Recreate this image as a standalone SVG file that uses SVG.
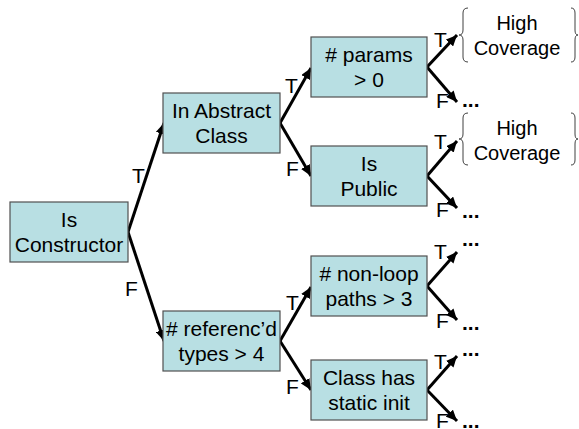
<svg xmlns="http://www.w3.org/2000/svg" width="579" height="429" viewBox="0 0 579 429">
<style>
.box{fill:#b8dfe3;stroke:#505050;stroke-width:1.2}
.t{font-family:"Liberation Sans",Arial,sans-serif;font-size:21px;fill:#000;text-anchor:middle}
.lbl{font-family:"Liberation Sans",Arial,sans-serif;font-size:21px;fill:#000}
.hc{font-family:"Liberation Sans",Arial,sans-serif;font-size:20px;fill:#000;text-anchor:middle}
.dots{font-family:"Liberation Sans",Arial,sans-serif;font-size:21px;font-weight:bold;fill:#000}
.c{stroke:#000;stroke-width:3;fill:none;marker-end:url(#ah)}
.br{stroke:#404040;stroke-width:1;fill:none}
</style>
<defs>
<marker id="ah" markerUnits="userSpaceOnUse" markerWidth="12" markerHeight="10" refX="11" refY="5" orient="auto">
<path d="M0,0 L11,5 L0,10 Z" fill="#000"/>
</marker>
</defs>
<g id="connectors">
<line class="c" x1="128" y1="232" x2="164" y2="123"/>
<line class="c" x1="128" y1="232" x2="164" y2="341"/>
<line class="c" x1="280" y1="123" x2="311" y2="68"/>
<line class="c" x1="280" y1="123" x2="311" y2="176"/>
<line class="c" x1="280" y1="341" x2="311" y2="287"/>
<line class="c" x1="280" y1="341" x2="311" y2="390"/>
<line class="c" x1="427" y1="67" x2="457" y2="35"/>
<line class="c" x1="427" y1="67" x2="457" y2="102"/>
<line class="c" x1="427" y1="176" x2="457" y2="141"/>
<line class="c" x1="427" y1="176" x2="457" y2="208"/>
<line class="c" x1="427" y1="286" x2="457" y2="252"/>
<line class="c" x1="427" y1="286" x2="457" y2="320"/>
<line class="c" x1="427" y1="390" x2="457" y2="356"/>
<line class="c" x1="427" y1="390" x2="457" y2="421"/>
<text class="lbl" x="132" y="183">T</text>
<text class="lbl" x="125" y="296">F</text>
<text class="lbl" x="285" y="93">T</text>
<text class="lbl" x="286" y="176">F</text>
<text class="lbl" x="286" y="310">T</text>
<text class="lbl" x="286" y="394">F</text>
<text class="lbl" x="434" y="47">T</text>
<text class="lbl" x="436" y="108">F</text>
<text class="lbl" x="434" y="149">T</text>
<text class="lbl" x="436" y="217">F</text>
<text class="lbl" x="434" y="259">T</text>
<text class="lbl" x="436" y="328">F</text>
<text class="lbl" x="434" y="369">T</text>
<text class="lbl" x="436" y="428">F</text>
</g>
<g id="n1"><rect class="box" x="10" y="202" width="118" height="60"/><text class="t" x="69" y="227">Is</text><text class="t" x="69" y="252">Constructor</text></g>
<g id="n2"><rect class="box" x="163" y="93" width="117" height="60"/><text class="t" x="221.5" y="118">In Abstract</text><text class="t" x="221.5" y="143">Class</text></g>
<g id="n3"><rect class="box" x="163" y="311" width="117" height="60"/><text class="t" x="221.5" y="336"># referenc’d</text><text class="t" x="221.5" y="361">types &gt; 4</text></g>
<g id="n4"><rect class="box" x="311" y="37" width="116" height="60"/><text class="t" x="369" y="62"># params</text><text class="t" x="369" y="87">&gt; 0</text></g>
<g id="n5"><rect class="box" x="311" y="146" width="116" height="60"/><text class="t" x="369" y="171">Is</text><text class="t" x="369" y="196">Public</text></g>
<g id="n6"><rect class="box" x="311" y="256" width="116" height="60"/><text class="t" x="369" y="281"># non-loop</text><text class="t" x="369" y="306">paths &gt; 3</text></g>
<g id="n7"><rect class="box" x="311" y="360" width="116" height="60"/><text class="t" x="369" y="385">Class has</text><text class="t" x="369" y="410">static init</text></g>
<g id="hc1">
<path class="br" d="M468,8 Q463,8 463,13 L463,30 Q463,35 459,35 Q463,35 463,40 L463,57 Q463,62 468,62"/>
<path class="br" d="M571,8 Q575,8 575,13 L575,30 Q575,35 578,35 Q575,35 575,40 L575,57 Q575,62 571,62"/>
<text class="hc" x="517" y="30">High</text><text class="hc" x="517" y="55">Coverage</text>
</g>
<g id="hc2">
<path class="br" d="M468,113 Q463,113 463,118 L463,134 Q463,139 459,139 Q463,139 463,144 L463,160 Q463,165 468,165"/>
<path class="br" d="M571,113 Q575,113 575,118 L575,134 Q575,139 578,139 Q575,139 575,144 L575,160 Q575,165 571,165"/>
<text class="hc" x="517" y="135">High</text><text class="hc" x="517" y="160">Coverage</text>
</g>
<g id="ends">
<text class="dots" x="462" y="107">...</text>
<text class="dots" x="462" y="218">...</text>
<text class="dots" x="462" y="246">...</text>
<text class="dots" x="462" y="330">...</text>
<text class="dots" x="462" y="356">...</text>
<text class="dots" x="462" y="428">...</text>
</g>
</svg>
